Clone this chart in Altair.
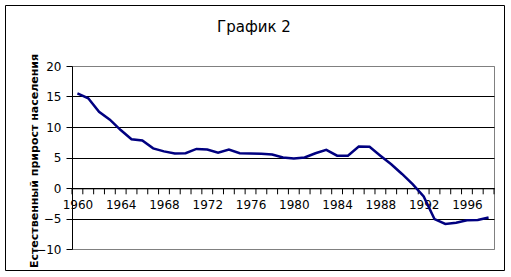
import altair as alt
import pandas as pd

years = list(range(1960, 1999))
values = [15.5, 14.7, 12.5, 11.2, 9.5, 8.0, 7.8, 6.5, 6.0, 5.65,
          5.7, 6.4, 6.3, 5.8, 6.3, 5.7, 5.65, 5.6, 5.5, 5.0,
          4.85, 5.0, 5.7, 6.25, 5.3, 5.3, 6.8, 6.75, 5.3, 3.9,
          2.3, 0.6, -1.4, -5.1, -5.9, -5.7, -5.3, -5.25, -4.85]
x_labels = list(range(1960, 1999, 4))
y_ticks = [-10, -5, 0, 5, 10, 15, 20]
title_text = "График 2"
y_title = "Естественный прирост населения"

df = pd.DataFrame({"year": years, "value": values})
ticks_df = pd.DataFrame({"year": [y - 0.5 for y in years] + [years[-1] + 0.5]})

FONT = "DejaVu Sans"
x_scale = alt.Scale(domain=[years[0] - 0.5, years[-1] + 0.5], nice=False, zero=False)

x_axis = alt.Axis(
    values=x_labels,
    format="d",
    labelPadding=11,
    labelOverlap=False,
    labelFlush=False,
    ticks=False,
    domainColor="black",
    offset=-60.7,
    grid=False,
    title=None,
    labelFont=FONT,
    labelFontSize=12,
    labelColor="black",
)

y_enc = alt.Y(
    "value:Q",
    scale=alt.Scale(domain=[-10, 20], nice=False, zero=False),
    axis=alt.Axis(
        values=y_ticks,
        tickSize=6,
        tickColor="black",
        domainColor="black",
        grid=True,
        gridColor={"condition": {"test": "datum.value == 20 || datum.value == -10", "value": "#808080"},
                   "value": "black"},
        gridOpacity=1,
        labelPadding=5,
        labelFont=FONT,
        labelFontSize=12,
        labelColor="black",
        title=y_title,
        titleFont=FONT,
        titleFontSize=11,
        titleFontWeight="bold",
        titleColor="black",
        titleX=-35,
        titleY=94.5,
        titleAngle=270,
        titleBaseline="alphabetic",
        titleAlign="center",
    ),
)

line = alt.Chart(df).mark_line(color="#000080", strokeWidth=2.5).encode(
    x=alt.X("year:Q", scale=x_scale, axis=x_axis), y=y_enc
)

xticks = alt.Chart(ticks_df).mark_rule(color="black", strokeWidth=1).encode(
    x=alt.X("year:Q", scale=x_scale, axis=x_axis),
    y=alt.value(122.3),
    y2=alt.value(128.3),
)

title = alt.Chart(pd.DataFrame({"t": [title_text]})).mark_text(
    font=FONT, fontSize=15, color="black", align="center", baseline="alphabetic"
).encode(text="t:N", x=alt.value(182), y=alt.value(-34.3))

frame = alt.Chart(pd.DataFrame({"t": [0]})).mark_rect(
    fill=None, stroke="black", strokeWidth=1, clip=False
).encode(x=alt.value(-66.5), x2=alt.value(432.5), y=alt.value(-60.5), y2=alt.value(204.5))

chart = alt.layer(frame, xticks, line, title).properties(
    width=422,
    height=183,
    autosize=alt.AutoSizeParams(type="none"),
    padding={"left": 72, "top": 66, "right": 17, "bottom": 28},
    background="white",
).configure_view(stroke="#808080", strokeWidth=1)

chart.save("out.html", embed_options={"renderer": "svg", "actions": False})
